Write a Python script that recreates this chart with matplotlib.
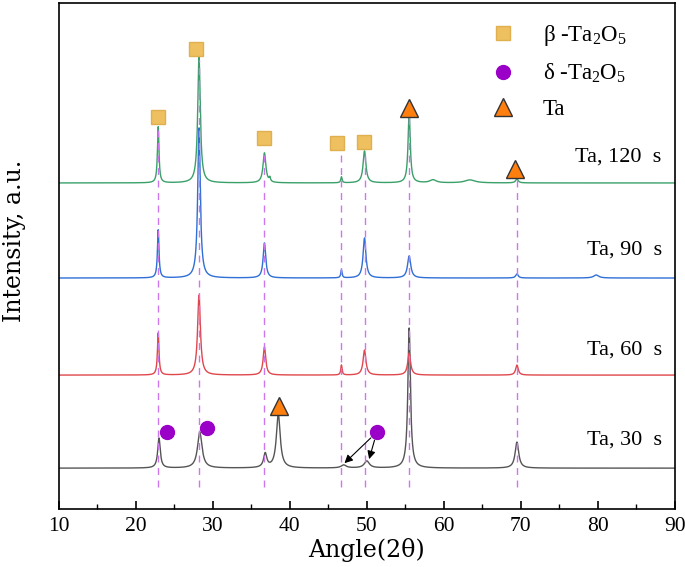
import numpy as np
import matplotlib
matplotlib.use("Agg")
import matplotlib.pyplot as plt
from matplotlib.lines import Line2D

plt.rcParams['font.family'] = ['Liberation Serif', 'DejaVu Serif']
plt.rcParams['mathtext.default'] = 'regular'

# peak lists: position (deg), height, half width (deg)
samples = ["Ta, 30  s", "Ta, 60  s", "Ta, 90  s", "Ta, 120  s"]
colors = ["#555555", "#e0474c", "#2f6fd6", "#3aa06a"]
baselines = [41, 134, 231, 326]
peak_pos = [
    [23.0, 28.3, 36.8, 38.5, 47.0, 50.0, 55.5, 69.5],
    [22.9, 28.2, 36.7, 46.7, 49.7, 55.5, 69.5],
    [22.9, 28.2, 36.7, 46.7, 49.7, 55.5, 69.5, 79.8],
    [22.9, 28.2, 36.7, 37.4, 46.7, 49.7, 55.5, 58.6, 63.4, 69.5],
]
peak_height = [
    [30, 36, 14, 54, 3, 7, 140, 26],
    [42, 80, 28, 10, 25, 22, 10],
    [48, 150, 35, 8, 40, 22, 4, 3],
    [56, 126, 30, 4, 6, 32, 70, 3, 3, 4],
]
peak_hw = [
    [0.2, 0.35, 0.25, 0.3, 0.4, 0.4, 0.2, 0.28],
    [0.12, 0.22, 0.2, 0.1, 0.22, 0.22, 0.2],
    [0.12, 0.2, 0.2, 0.1, 0.22, 0.25, 0.2, 0.4],
    [0.12, 0.2, 0.22, 0.1, 0.1, 0.22, 0.17, 0.5, 0.8, 0.2],
]

ref_lines = [22.9, 28.2, 36.7, 46.7, 49.7, 55.5, 69.5]
ref_tops = [382, 449, 357, 354, 358, 394, 331]

beta_x = [22.9, 27.8, 36.6, 46.1, 49.6]
beta_y = [392, 460, 371, 366, 367]
delta_x = [24.0, 29.2, 51.3]
delta_y = [77, 81, 77]
ta_x = [55.45, 69.2, 38.6]
ta_y = [401, 340, 103]

two_theta = np.arange(10, 90.01, 0.02)

fig = plt.figure(figsize=(6.85, 5.67), dpi=100)
ax = fig.add_axes([0.086, 0.102, 0.899, 0.893])

for name, c, base, pos, hgt, hw in zip(samples, colors, baselines,
                                       peak_pos, peak_height, peak_hw):
    y = np.full_like(two_theta, base, dtype=float)
    for p, h, w in zip(pos, hgt, hw):
        y += h / (1 + ((two_theta - p) / w) ** 2)
    ax.plot(two_theta, y, color=c, lw=1.0, zorder=2)

# dashed guide lines sit on top of the traces
ax.vlines(ref_lines, 22, ref_tops, colors="#cc77ee", linestyles=(0, (5, 4)),
          linewidth=1.0, zorder=3)

label_y = [69, 159, 259, 352]
for name, ly in zip(samples, label_y):
    ax.text(88.3, ly, name, ha="right", va="center", fontsize=16)

sq_style = dict(marker="s", color="#eec060", markeredgecolor="#e0b050",
                markersize=10, linestyle="none")
ci_style = dict(marker="o", color="#9b00c8", markeredgecolor="#9b00c8",
                markersize=10, linestyle="none")
tr_style = dict(marker="^", color="#ff7f0e", markeredgecolor="#333333",
                markersize=13, linestyle="none")

ax.plot(beta_x, beta_y, zorder=4, **sq_style)
ax.plot(delta_x, delta_y, zorder=4, **ci_style)
ax.plot(ta_x, ta_y, zorder=4, **tr_style)

for tx, ty in [(47.1, 46), (50.3, 50)]:
    ax.annotate("", xy=(tx, ty), xytext=(delta_x[2], delta_y[2]),
                arrowprops=dict(arrowstyle="-|>", color="black", lw=0.8,
                                mutation_scale=12, shrinkA=6, shrinkB=0),
                zorder=5)

handles = [Line2D([], [], **sq_style), Line2D([], [], **ci_style),
           Line2D([], [], **tr_style)]
labels = [r"β -Ta$_2$O$_5$", r"δ -Ta$_2$O$_5$", "Ta"]
ax.legend(handles, labels, loc="upper left", bbox_to_anchor=(0.65, 1.0),
          frameon=False, fontsize=16.5, handletextpad=0.75, labelspacing=0.59,
          borderaxespad=0.5)

ax.set_xlim(10, 90)
ax.set_ylim(0, 506)
ax.set_xticks(np.arange(10, 91, 10))
ax.set_xticks(np.arange(15, 90, 10), minor=True)
ax.tick_params(axis="x", which="major", direction="in", length=6, width=1.2,
               labelsize=15.5, pad=6)
ax.tick_params(axis="x", which="minor", direction="in", length=3.5, width=1.0)
ax.set_yticks([])
for s in ax.spines.values():
    s.set_linewidth(1.2)
ax.set_xlabel("Angle(2θ)", fontsize=17, family="DejaVu Serif", labelpad=1)
ax.set_ylabel("Intensity, a.u.", fontsize=17, family="DejaVu Serif")
ax.yaxis.set_label_coords(-0.053, 0.53)

fig.savefig("out.png", dpi=100)
